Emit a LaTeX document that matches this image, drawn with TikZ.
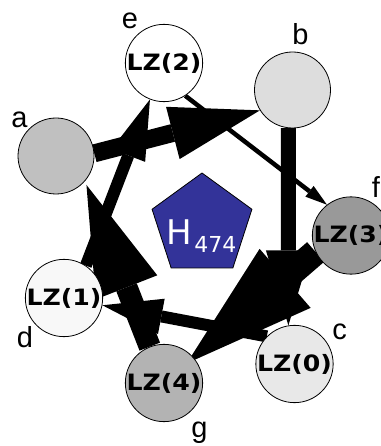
\documentclass[tikz,border=0pt]{standalone}
\usepackage{fontspec}
\setmainfont{Liberation Sans}
\newfontfamily\lzfont[FakeStretch=1.12]{DejaVu Sans}
\newfontfamily\hfont{DejaVu Sans}
\usetikzlibrary{arrows.meta,shapes.geometric}
\pgfdeclarelayer{bg}
\pgfsetlayers{bg,main}
\definecolor{cA}{RGB}{192,192,192}
\definecolor{cB}{RGB}{221,221,221}
\definecolor{cC}{RGB}{232,232,232}
\definecolor{cD}{RGB}{248,248,248}
\definecolor{cE}{RGB}{255,255,255}
\definecolor{cF}{RGB}{153,153,153}
\definecolor{cG}{RGB}{179,179,179}
\definecolor{pent}{RGB}{51,51,153}
\begin{document}
\begin{tikzpicture}[x=1pt,y=-1pt,
  vert/.style={circle,draw=black,line width=0.8pt,minimum size=76pt,inner sep=0pt,
    font=\lzfont\bfseries\fontsize{22.5}{22.5}\selectfont},
  lbl/.style={inner sep=0pt,font=\fontsize{29}{29}\selectfont},
  ew/.style n args={3}{draw=black,line width=#1,
    -{Triangle[length=#2,width=#3,line width=0pt]}}]
\useasboundingbox (0,0) rectangle (380,446);
% nodes
\node[vert,fill=cA] (a) at (56,156) {};
\node[vert,fill=cB] (b) at (292.5,90) {};
\node[vert,fill=cC] (c) at (294.5,364) {LZ(0)};
\node[vert,fill=cD] (d) at (64,298) {LZ(1)};
\node[vert,fill=cE] (e) at (164,63) {LZ(2)};
\node[vert,fill=cF] (f) at (351,235.5) {LZ(3)};
\node[vert,fill=cG] (g) at (164,383) {LZ(4)};
% pentagon
\node[regular polygon,regular polygon sides=5,minimum size=105pt,inner sep=0pt,
  fill=pent,draw=black,line width=0.8pt] (h) at (202,225.5) {};
\node[inner sep=0pt,text=white,font=\hfont] (ht) at (201.5,236.5)
  {\fontsize{34}{34}\selectfont H\hspace{2pt}\raisebox{-8pt}{\fontsize{22}{22}\selectfont 474}};
% labels
\node[lbl] (la) at (19.5,119.5) {a};
\node[lbl] (lb) at (300.5,34) {b};
\node[lbl] (lc) at (339.5,331.5) {c};
\node[lbl] (ld) at (25,337) {d};
\node[lbl] (le) at (130,20.5) {e};
\node[lbl] (lf) at (376,187) {f};
\node[lbl] (lg) at (199.5,433) {g};
% edges
\begin{pgfonlayer}{bg}
\draw[ew={18pt}{90pt}{54pt}] (a.4) -- (b.212);
\draw[ew={15pt}{75pt}{45pt}] (b.-96) -- (c.99);
\draw[ew={12pt}{60pt}{36pt}] (c.135) -- (d);
\draw[ew={12pt}{60pt}{36pt}] (d.56) -- (e);
\draw[ew={4.5pt}{22pt}{13.5pt}] (e.-57.5) -- (f.128);
\draw[ew={26pt}{130pt}{78pt},shorten >=-9pt] (f.205) -- (g);
\draw[ew={22pt}{110pt}{66pt},shorten >=4pt] (g) -- (a.-41);
\end{pgfonlayer}
\end{tikzpicture}
\end{document}
